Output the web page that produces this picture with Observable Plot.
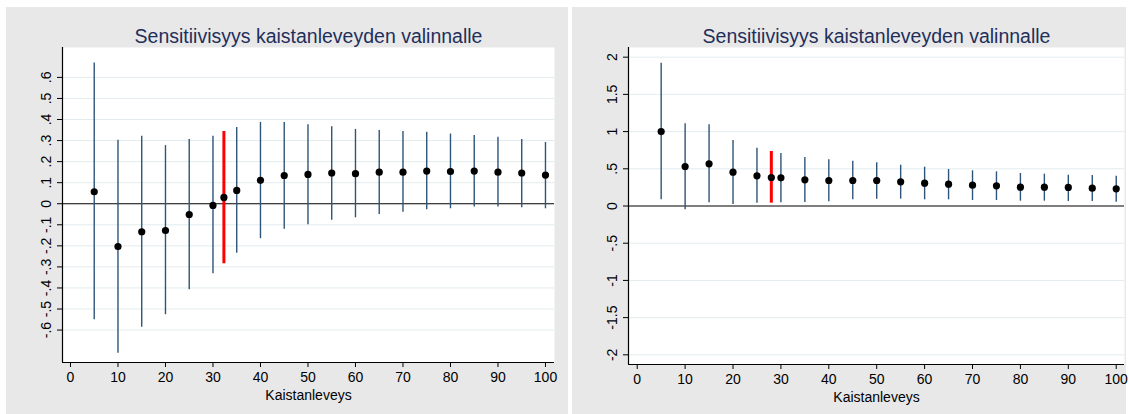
<!DOCTYPE html>
<html><head><meta charset="utf-8">
<script src="https://cdn.jsdelivr.net/npm/d3@7"></script>
<script src="https://cdn.jsdelivr.net/npm/@observablehq/plot@0.6"></script>
<style>
html,body{margin:0;padding:0;background:#fff;}
body{width:1129px;height:414px;position:relative;overflow:hidden;font-family:"Liberation Sans",Arial,sans-serif;}
.panel{position:absolute;top:7px;height:407px;background:#e8e8e8;}
#p1{left:6px;width:562px;}
#p2{left:572px;width:554px;}
.panel svg{display:block;overflow:visible;}
</style></head><body>
<div id="p1" class="panel"></div><div id="p2" class="panel"></div>
<script>
const title = "Sensitiivisyys kaistanleveyden valinnalle";
const xLabel = "Kaistanleveys";
const bandwidths = [5,10,15,20,25,30,35,40,45,50,55,60,65,70,75,80,85,90,95,100];
const xTicks = [0,10,20,30,40,50,60,70,80,90,100];

const leftEst = [0.057,-0.203,-0.133,-0.127,-0.051,-0.008,0.063,0.111,0.134,0.139,0.146,0.143,0.150,0.150,0.155,0.153,0.155,0.150,0.146,0.136];
const leftHi  = [0.668,0.301,0.320,0.276,0.305,0.320,0.362,0.386,0.386,0.375,0.366,0.353,0.348,0.343,0.339,0.331,0.324,0.316,0.305,0.291];
const leftLo  = [-0.551,-0.710,-0.586,-0.527,-0.409,-0.333,-0.235,-0.166,-0.121,-0.100,-0.079,-0.067,-0.051,-0.040,-0.029,-0.024,-0.016,-0.016,-0.019,-0.024];
const leftOpt = {bw: 32.3, est: 0.030, lo: -0.285, hi: 0.343};
const leftYTicks = [-0.6,-0.5,-0.4,-0.3,-0.2,-0.1,0,0.1,0.2,0.3,0.4,0.5,0.6];
const leftYGrid = [-0.6,-0.5,-0.4,-0.3,-0.2,-0.1,0.1,0.2,0.3,0.4,0.5,0.6];

const rightEst = [1.0,0.531,0.567,0.454,0.406,0.379,0.352,0.343,0.343,0.343,0.325,0.307,0.293,0.280,0.271,0.253,0.253,0.249,0.240,0.231];
const rightHi  = [1.92,1.105,1.091,0.880,0.777,0.706,0.652,0.621,0.602,0.581,0.548,0.522,0.491,0.473,0.459,0.437,0.428,0.414,0.410,0.401];
const rightLo  = [0.083,-0.05,0.043,0.02,0.038,0.043,0.047,0.056,0.083,0.092,0.092,0.083,0.083,0.074,0.074,0.065,0.065,0.061,0.061,0.052];
const rightOpt = {bw: 28.0, est: 0.383, lo: 0.038, hi: 0.733};
const rightYTicks = [-2,-1.5,-1,-0.5,0,0.5,1,1.5,2];
const rightYGrid = [-2,-1.5,-1,-0.5,0.5,1,1.5,2];

const fmt = d => d === 0 ? "0" : String(+d.toFixed(2)).replace(/^(-?)0\./, "$1.");

function panel({est, lo, hi, opt, xDomain, yDomain, yTicks, yGrid, width, marginRight, marginBottom}) {
  const rows = bandwidths.map((bw, i) => ({bw, est: est[i], lo: lo[i], hi: hi[i]}));
  return Plot.plot({
    width, height: 407,
    marginLeft: 56, marginRight, marginTop: 40, marginBottom,
    style: {background: "transparent", fontFamily: "'Liberation Sans', Arial, sans-serif", fontSize: "14px", color: "#000", overflow: "visible"},
    x: {domain: xDomain, nice: false},
    y: {domain: yDomain, nice: false},
    marks: [
      Plot.frame({fill: "white", stroke: null}),
      Plot.gridY(yGrid, {stroke: "#e2ecee", strokeOpacity: 1, strokeWidth: 1}),
      Plot.ruleY([0], {stroke: "#000", strokeWidth: 1.2}),
      Plot.ruleX([xDomain[0]], {stroke: "#000", strokeWidth: 1.2}),
      Plot.ruleY([yDomain[0]], {stroke: "#000", strokeWidth: 1.2}),
      Plot.axisX({ticks: xTicks, tickSize: 5, tickPadding: 5, fontSize: 14, label: xLabel, labelAnchor: "center", labelOffset: 37, labelArrow: "none"}),
      Plot.axisY({ticks: yTicks, tickFormat: fmt, tickSize: 5, tickPadding: 7, tickRotate: -90, fontSize: 14, label: null}),
      Plot.ruleX(rows, {x: "bw", y1: "lo", y2: "hi", stroke: "#2e5479", strokeWidth: 1.4}),
      Plot.ruleX([opt], {x: "bw", y1: "lo", y2: "hi", stroke: "#ff0000", strokeWidth: 3}),
      Plot.dot(rows.concat([opt]), {x: "bw", y: "est", r: 3.6, fill: "#000", stroke: null}),
      Plot.text([title], {frameAnchor: "top", lineAnchor: "bottom", dy: -5, fontSize: 19.5, fill: "#1f2f5b"})
    ]
  });
}

document.getElementById("p1").append(panel({
  est: leftEst, lo: leftLo, hi: leftHi, opt: leftOpt,
  xDomain: [-1.68, 101.9], yDomain: [-0.754, 0.742],
  yTicks: leftYTicks, yGrid: leftYGrid, width: 562, marginRight: 14, marginBottom: 52
}));
document.getElementById("p2").append(panel({
  est: rightEst, lo: rightLo, hi: rightHi, opt: rightOpt,
  xDomain: [-1.82, 101.73], yDomain: [-2.13, 2.13],
  yTicks: rightYTicks, yGrid: rightYGrid, width: 554, marginRight: 2, marginBottom: 50
}));
</script>
</body></html>
